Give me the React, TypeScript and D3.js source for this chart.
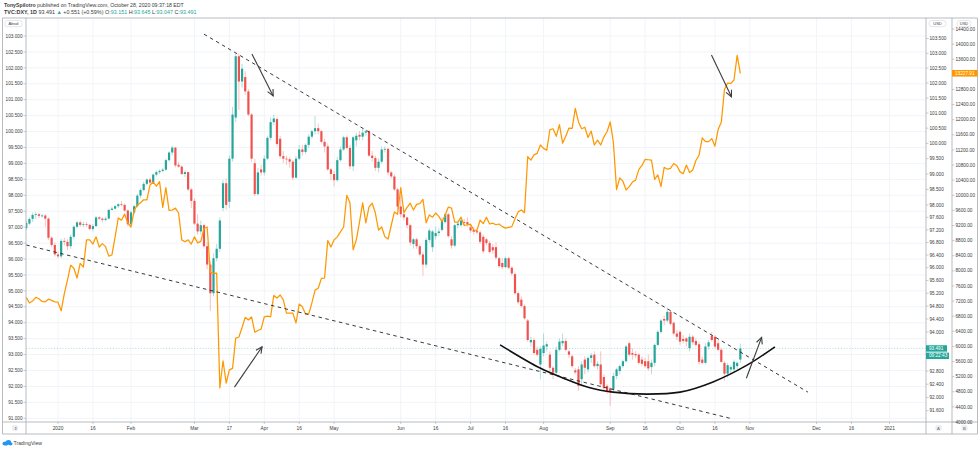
import React from "react";
import * as d3 from "d3";

const W = 980;
const H = 449;

// DXY daily candles [open, high, low, close], one per weekday from 2019-12-18 to 2020-10-28
const dxyOHLC: [number, number, number, number][] = [
  [97.25,97.50,97.20,97.42],[97.40,97.60,97.35,97.55],[97.55,97.75,97.45,97.68],[97.68,97.78,97.55,97.70],[97.70,97.74,97.58,97.65],
  [97.65,97.70,97.60,97.66],[97.66,97.70,97.30,97.56],[97.56,97.60,96.88,96.95],[96.95,97.00,96.65,96.72],[96.72,96.80,96.35,96.42],
  [96.42,96.50,96.30,96.36],[96.36,96.92,96.30,96.85],[96.85,96.95,96.70,96.82],[96.82,96.90,96.55,96.68],[96.68,97.05,96.60,96.98],
  [96.98,97.35,96.90,97.30],[97.30,97.48,97.25,97.44],[97.44,97.50,97.30,97.36],[97.36,97.46,97.30,97.38],[97.38,97.45,97.30,97.36],
  [97.36,97.40,97.18,97.23],[97.23,97.38,97.15,97.32],[97.32,97.65,97.30,97.60],[97.60,97.64,97.52,97.56],[97.56,97.60,97.45,97.52],
  [97.52,97.62,97.48,97.56],[97.56,97.88,97.54,97.84],[97.84,97.95,97.82,97.88],[97.88,98.00,97.85,97.96],[97.96,98.06,97.90,98.02],
  [98.02,98.12,97.96,98.00],[98.00,98.05,97.78,97.82],[97.82,97.86,97.32,97.38],[97.38,97.82,97.36,97.76],[97.76,98.00,97.70,97.96],
  [97.96,98.35,97.92,98.30],[98.30,98.54,98.22,98.48],[98.48,98.75,98.44,98.68],[98.68,98.85,98.62,98.82],[98.82,98.88,98.68,98.72],
  [98.72,99.02,98.70,98.98],[98.98,99.12,98.92,99.06],[99.06,99.15,99.00,99.10],[99.10,99.20,99.05,99.14],[99.14,99.50,99.10,99.45],
  [99.45,99.74,99.40,99.70],[99.70,99.92,99.60,99.86],[99.86,99.88,99.22,99.28],[99.30,99.40,99.20,99.24],[99.24,99.28,98.96,99.00],
  [99.00,99.12,98.90,99.06],[99.06,99.08,98.44,98.50],[98.50,98.55,97.90,98.13],[98.13,98.20,97.36,97.40],[97.40,97.70,97.05,97.15],
  [97.15,97.50,97.05,97.35],[97.35,97.40,96.60,96.68],[96.68,96.80,95.95,96.10],[96.10,96.20,94.65,95.20],[95.20,96.45,95.10,96.30],
  [96.30,96.75,96.20,96.60],[96.60,97.60,96.50,97.50],[97.90,98.80,97.80,98.70],[98.70,98.85,97.85,98.00],[98.10,99.60,97.90,99.50],
  [99.50,101.20,99.40,100.95],[100.85,102.99,100.70,102.90],[102.90,102.99,101.10,102.05],[102.05,102.65,101.85,102.48],[102.20,102.40,101.60,101.72],
  [101.72,101.80,100.90,100.95],[100.95,101.00,99.40,99.50],[99.35,99.50,98.28,98.35],[98.35,99.20,98.30,99.05],[99.15,99.30,98.95,99.05],
  [99.05,99.60,98.95,99.50],[99.50,100.25,99.45,100.18],[100.18,100.85,100.10,100.70],[100.70,100.95,100.60,100.82],[100.80,100.85,99.90,99.98],
  [100.15,100.25,99.50,99.58],[99.58,99.75,99.35,99.50],[99.50,99.60,99.30,99.48],[99.48,99.55,99.20,99.40],[99.40,99.45,98.80,98.88],
  [98.88,99.60,98.85,99.50],[99.50,99.95,99.45,99.80],[99.80,99.95,99.60,99.72],[99.72,100.00,99.65,99.95],[99.95,100.30,99.85,100.22],
  [100.22,100.45,100.15,100.40],[100.40,100.90,100.30,100.50],[100.50,100.65,100.30,100.40],[100.40,100.45,100.00,100.05],[100.05,100.15,99.70,99.90],
  [99.90,100.00,99.10,99.15],[99.15,99.20,98.80,99.00],[99.00,99.10,98.60,98.80],[98.80,99.55,98.75,99.45],[99.45,99.90,99.40,99.80],
  [99.80,100.25,99.75,100.20],[100.20,100.25,99.80,99.85],[99.85,99.95,99.15,99.25],[99.25,100.25,99.10,100.20],[100.10,100.35,99.90,100.25],
  [100.28,100.40,100.10,100.22],[100.22,100.50,100.10,100.35],[100.35,100.45,100.25,100.40],[100.40,100.45,99.55,99.60],[99.60,99.75,99.40,99.52],
  [99.52,99.60,99.10,99.20],[99.20,99.50,99.05,99.40],[99.40,99.90,99.35,99.80],[99.80,99.90,99.70,99.82],[99.82,99.85,98.95,99.05],
  [99.05,99.10,98.85,98.92],[98.92,99.00,98.45,98.50],[98.50,98.55,97.85,97.95],[97.95,98.30,97.60,97.70],[97.70,97.80,97.50,97.60],
  [97.60,97.62,97.25,97.35],[97.35,97.40,96.70,96.80],[96.75,96.95,96.60,96.90],[96.90,96.95,96.60,96.68],[96.68,96.75,96.35,96.42],
  [96.42,96.50,95.75,96.10],[96.10,96.95,96.00,96.88],[96.88,97.25,96.80,97.18],[96.65,97.20,96.50,97.15],[97.00,97.30,96.90,97.10],
  [97.10,97.25,97.00,97.15],[97.20,97.60,97.15,97.50],[97.45,97.75,97.40,97.70],[97.70,97.75,96.95,97.00],[96.90,97.00,96.60,96.70],
  [96.70,97.40,96.65,97.35],[97.35,97.50,97.25,97.40],[97.35,97.55,97.30,97.50],[97.45,97.55,97.35,97.42],[97.45,97.60,97.30,97.38],
  [97.28,97.40,97.10,97.18],[97.20,97.30,97.05,97.14],[97.16,97.22,97.05,97.12],[97.12,97.18,96.75,96.82],[96.98,97.05,96.45,96.52],
  [96.90,96.95,96.70,96.78],[96.78,96.85,96.45,96.50],[96.65,96.75,96.45,96.55],[96.65,96.80,96.25,96.32],[96.30,96.35,96.00,96.05],
  [96.15,96.30,95.95,96.02],[96.02,96.35,95.98,96.30],[96.30,96.35,95.95,96.00],[96.00,96.05,95.75,95.82],[95.80,95.85,95.15,95.20],
  [95.20,95.25,94.85,94.92],[95.00,95.10,94.75,94.80],[94.80,94.85,94.38,94.42],[94.35,94.40,93.70,93.75],[93.68,93.85,93.55,93.75],
  [93.75,93.80,93.30,93.35],[93.45,93.55,93.25,93.30],[93.00,93.55,92.55,93.48],[93.35,93.95,93.25,93.58],[93.55,93.70,93.40,93.62],
  [93.30,93.40,92.80,92.90],[92.90,92.95,92.55,92.75],[92.75,93.55,92.70,93.45],[93.45,93.80,93.40,93.70],[93.65,93.95,93.55,93.72],
  [93.72,93.80,93.40,93.45],[93.40,93.45,93.20,93.30],[93.25,93.30,92.90,92.95],[92.82,92.90,92.70,92.76],[92.85,92.95,92.20,92.35],
  [92.55,93.10,92.40,93.00],[93.15,93.25,92.70,92.90],[92.85,93.25,92.75,93.20],[93.20,93.35,93.05,93.28],[93.30,93.40,92.90,92.95],
  [92.95,93.10,92.85,93.02],[93.00,93.40,92.30,92.40],[92.62,92.70,92.20,92.28],[92.35,92.40,92.10,92.18],[92.28,92.30,91.75,92.15],
  [92.25,92.75,92.20,92.65],[92.65,92.90,92.55,92.85],[92.80,93.00,92.70,92.95],[92.95,93.15,92.90,93.10],[93.10,93.60,93.05,93.55],
  [93.65,93.70,93.25,93.30],[93.35,93.50,93.15,93.30],[93.32,93.40,93.20,93.28],[93.30,93.35,93.00,93.05],[93.15,93.25,92.95,93.02],
  [93.10,93.20,92.90,92.95],[93.10,93.30,92.80,92.88],[92.92,93.15,92.70,93.05],[93.05,93.65,92.95,93.60],[93.60,94.05,93.55,94.00],
  [94.00,94.40,93.95,94.35],[94.40,94.50,94.20,94.35],[94.35,94.75,94.30,94.62],[94.62,94.65,94.20,94.25],[94.28,94.32,93.90,93.95],
  [93.95,94.05,93.75,93.85],[94.00,94.05,93.60,93.70],[93.78,93.90,93.65,93.72],[93.80,93.85,93.55,93.70],[93.50,93.95,93.40,93.85],
  [93.85,93.90,93.60,93.68],[93.72,93.80,93.55,93.60],[93.62,93.70,93.00,93.08],[93.15,93.25,93.00,93.05],[93.05,93.65,93.00,93.55],
  [93.55,93.75,93.45,93.68],[93.88,94.00,93.70,93.75],[93.85,93.90,93.50,93.55],[93.65,93.75,93.40,93.45],[93.45,93.50,93.05,93.08],
  [93.05,93.10,92.50,92.72],[92.72,93.05,92.60,92.98],[92.85,92.98,92.70,92.92],[92.85,93.15,92.75,93.08],[92.95,93.10,92.85,93.05],
  [93.151,93.645,93.047,93.491],
];

// BTCUSD close on the same weekday bars
const btcClose: number[] = [
  7300, 7150, 7200, 7300, 7260, 7190, 7180, 7250, 7220, 7180,
  7170, 6940, 7400, 7760, 8150, 8070, 7810, 8200, 8100, 8820,
  8820, 8710, 8900, 8630, 8720, 8640, 8390, 8420, 8900, 9400,
  9340, 9500, 9270, 9160, 9600, 9740, 9800, 9880, 9880, 10270,
  10350, 10240, 10360, 9680, 10200, 9600, 9610, 9660, 9530, 8820,
  8770, 8820, 8710, 8900, 8740, 8780, 9120, 9160, 7960, 7930,
  7940, 4900, 5620, 5030, 5380, 5420, 6220, 6250, 6500, 6770,
  6700, 6780, 6380, 6420, 6460, 6780, 6800, 6780, 7350, 7280,
  7360, 7230, 6880, 6880, 6880, 6620, 7120, 7050, 6860, 6860,
  7150, 7490, 7540, 7800, 7810, 8800, 8630, 8820, 8900, 9030,
  9160, 10000, 9800, 8560, 8820, 9290, 9800, 9270, 9690, 9790,
  9530, 9080, 9160, 8900, 8840, 9200, 9560, 9500, 10200, 9540,
  9680, 9790, 9610, 9760, 9780, 9890, 9270, 9480, 9420, 9530,
  9440, 9300, 9470, 9690, 9660, 9290, 9290, 9420, 9200, 9220,
  9230, 9080, 9070, 9340, 9250, 9420, 9240, 9260, 9220, 9240,
  9170, 9130, 9150, 9170, 9380, 9560, 9610, 9540, 11020, 10930,
  11070, 11110, 11330, 11240, 11190, 11740, 11760, 11560, 11870, 11380,
  11560, 11780, 11770, 12300, 11940, 11760, 11800, 11530, 11700, 11330,
  11460, 11330, 11540, 11680, 11940, 11400, 10150, 10460, 10370, 10140,
  10230, 10350, 10400, 10680, 10790, 10950, 10940, 10930, 10420, 10540,
  10230, 10740, 10690, 10710, 10840, 10780, 10620, 10570, 10800, 10600,
  10670, 10920, 11060, 11520, 11420, 11420, 11500, 11300, 11740, 11930,
  12800, 12970, 12960, 13050, 13700, 13228,
];

const timeTickDates = ["2020-01-01","2020-01-16","2020-02-03","2020-03-02","2020-03-17","2020-04-01","2020-04-16","2020-05-01","2020-06-01","2020-06-16","2020-07-01","2020-07-16","2020-08-03","2020-09-01","2020-09-16","2020-10-01","2020-10-16","2020-11-02","2020-12-01","2020-12-16","2021-01-01"];
const timeTickLabels = ["2020","16","Feb","Mar","17","Apr","16","May","Jun","16","Jul","16","Aug","Sep","16","Oct","16","Nov","Dec","16","2021"];

const leftTicks = [91,91.5,92,92.5,93,93.5,94,94.5,95,95.5,96,96.5,97,97.5,98,98.5,99,99.5,100,100.5,101,101.5,102,102.5,103];
const dxyTicks = [103.5,103,102.5,102,101.5,101,100.5,100,99.5,99,98.5,98,97.6,97.2,96.8,96.4,96,95.6,95.2,94.8,94.4,94,93.6,93.2,92.8,92.4,92,91.6];
const btcTicks = [4000,4400,4800,5200,5600,6000,6400,6800,7200,7600,8000,8400,8800,9200,9600,10000,10400,10800,11200,11600,12000,12400,12800,13600,14000,14400];

// author's drawings, as [bar index, DXY price]
const upperTrend: [number, number][] = [[56.0, 103.65], [246.3, 92.16]];
const lowerTrend: [number, number][] = [[0, 96.72], [222.7, 91.35]];
const cupCurve: [number, number][] = [[149.3,93.60],[161.9,92.89],[169.1,92.59],[177.6,92.29],[184.9,92.16],[195.6,92.10],[206.0,92.16],[216.4,92.47],[227.1,92.98],[235.9,93.54]];
const arrows: [number, number, number, number][] = [
  [71.1, 102.98, 77.8, 101.57],
  [65.6, 92.31, 74.3, 93.54],
  [215.9, 102.94, 222.2, 101.54],
  [226.9, 92.58, 231.7, 93.83],
];

const lastPrice = 93.491;
const lastBtc = 13227.91;

const parse = d3.timeParse("%Y-%m-%d");
const fmt = d3.timeFormat("%Y-%m-%d");
const tradingDays = d3.timeDay
  .range(parse("2019-12-18") as Date, parse("2021-02-01") as Date)
  .filter((d) => d.getDay() !== 0 && d.getDay() !== 6)
  .map((d) => fmt(d));

const PL = 26, PR = 926, PT = 18, PB = 422;

const x = d3.scaleLinear().domain([0, 283.5]).range([26.25, 926]);
const yA = d3.scaleLog().domain([91.6, 103]).range([410.7, 53.3]);
const yL = d3.scaleLinear().domain([91, 103]).range([418.3, 36]);
const yB = d3.scaleLinear().domain([4000, 14400]).range([422, 29]);

const UP = "#26a69a";
const DOWN = "#ef5350";
const FONT = "'Liberation Sans', Arial, sans-serif";
const AX = "#a6a9b2";
const TXT = "#3b3b3b";

function arrowHead(x1: number, y1: number, x2: number, y2: number) {
  const a = Math.atan2(y2 - y1, x2 - x1);
  const L = 7, s = 0.45;
  const p1 = [x2 - L * Math.cos(a - s), y2 - L * Math.sin(a - s)];
  const p2 = [x2 - L * Math.cos(a + s), y2 - L * Math.sin(a + s)];
  return `M${p1[0]},${p1[1]}L${x2},${y2}L${p2[0]},${p2[1]}`;
}

export default function App() {
  const btcLine = d3
    .line<number>()
    .x((_, i) => x(i))
    .y((v) => yB(v))(btcClose) as string;
  const cupPath = d3
    .line<[number, number]>()
    .x((d) => x(d[0]))
    .y((d) => yA(d[1]))
    .curve(d3.curveCatmullRom)(cupCurve) as string;

  const priceY = yA(lastPrice);
  const btcY = yB(lastBtc);
  // tick labels hidden behind the last-price and countdown boxes
  const visibleDxyTicks = dxyTicks.filter((t) => {
    const ty = yA(t);
    return ty < priceY - 6.5 || ty > priceY + 14;
  });

  return (
    <svg width={W} height={H} style={{ position: "absolute", left: 0, top: 0, background: "#fff", fontFamily: FONT }}>
      <defs>
        <clipPath id="plot">
          <rect x={PL} y={PT} width={PR - PL} height={PB - PT} />
        </clipPath>
      </defs>
      <rect x={0} y={0} width={W} height={H} fill="#fff" />

      {/* header */}
      <text x={4} y={7} fontSize={5.2} fill={TXT}>
        <tspan fontWeight="bold">TonySpilotro</tspan>
        <tspan> published on TradingView.com, October 28, 2020 09:37:18 EDT</tspan>
      </text>
      <text x={4} y={14} fontSize={5.4} fill={TXT}>
        <tspan fontWeight="bold">TVC:DXY, 1D</tspan>
        <tspan> 93.491 </tspan>
        <tspan fill={UP}>▲</tspan>
        <tspan> +0.551 (+0.59%) O:</tspan>
        <tspan fill={UP}>93.151</tspan>
        <tspan> H:</tspan>
        <tspan fill={UP}>93.645</tspan>
        <tspan> L:</tspan>
        <tspan fill={UP}>93.047</tspan>
        <tspan> C:</tspan>
        <tspan fill={UP}>93.491</tspan>
      </text>

      {/* grid */}
      <g clipPath="url(#plot)">
        {leftTicks.map((t) => (
          <line key={"h" + t} x1={PL} x2={PR} y1={yL(t)} y2={yL(t)} stroke="#eef1f6" strokeWidth={0.8} />
        ))}
        {timeTickDates.map((d) => {
          const xi = x(tradingDays.indexOf(d));
          return <line key={"v" + d} x1={xi} x2={xi} y1={PT} y2={PB} stroke="#eef1f6" strokeWidth={0.8} />;
        })}
        <line x1={PL} x2={PR} y1={priceY} y2={priceY} stroke={UP} strokeOpacity={0.55} strokeWidth={0.6} strokeDasharray="1.2 1.6" />

        {/* candles */}
        {dxyOHLC.map(([o, h, l, c], i) => {
          const cx = x(i);
          const up = c >= o;
          const col = up ? UP : DOWN;
          const top = yA(Math.max(o, c));
          const bot = yA(Math.min(o, c));
          return (
            <g key={"c" + i}>
              <line x1={cx} x2={cx} y1={yA(h)} y2={yA(l)} stroke={col} strokeOpacity={0.4} strokeWidth={0.9} />
              <rect x={cx - 1.1} y={top} width={2.2} height={Math.max(0.8, bot - top)} fill={col} />
            </g>
          );
        })}

        {/* BTC overlay */}
        <path d={btcLine} fill="none" stroke="#ff9800" strokeWidth={1.25} strokeLinejoin="round" />

        {/* drawings */}
        <line x1={x(upperTrend[0][0])} y1={yA(upperTrend[0][1])} x2={x(upperTrend[1][0])} y2={yA(upperTrend[1][1])} stroke="#222" strokeWidth={0.9} strokeDasharray="3.5 3.5" />
        <line x1={x(lowerTrend[0][0])} y1={yA(lowerTrend[0][1])} x2={x(lowerTrend[1][0])} y2={yA(lowerTrend[1][1])} stroke="#222" strokeWidth={0.9} strokeDasharray="3.5 3.5" />
        <path d={cupPath} fill="none" stroke="#111" strokeWidth={1.6} />
        {arrows.map(([i1, p1, i2, p2], k) => {
          const x1 = x(i1), y1 = yA(p1), x2 = x(i2), y2 = yA(p2);
          return (
            <g key={"a" + k} stroke="#3c3c3c" strokeWidth={1.1} fill="none">
              <line x1={x1} y1={y1} x2={x2} y2={y2} />
              <path d={arrowHead(x1, y1, x2, y2)} />
            </g>
          );
        })}
      </g>

      {/* frame */}
      <g stroke={AX} strokeWidth={0.8}>
        <line x1={2.5} x2={977.5} y1={PT} y2={PT} />
        <line x1={2.5} x2={977.5} y1={PB} y2={PB} />
        <line x1={2.5} x2={977.5} y1={434} y2={434} />
        <line x1={2.5} x2={2.5} y1={PT} y2={434} />
        <line x1={PL} x2={PL} y1={PT} y2={434} />
        <line x1={PR} x2={PR} y1={PT} y2={434} />
        <line x1={952} x2={952} y1={PT} y2={434} />
        <line x1={977.5} x2={977.5} y1={PT} y2={434} />
      </g>

      {/* left axis */}
      <g fontSize={4.7} fill={TXT}>
        {leftTicks.map((t) => (
          <g key={"l" + t}>
            <line x1={23.5} x2={PL} y1={yL(t)} y2={yL(t)} stroke={AX} strokeWidth={0.6} />
            <text x={22.5} y={yL(t)} dy="0.35em" textAnchor="end">{t.toFixed(3)}</text>
          </g>
        ))}
      </g>
      <rect x={5} y={20.5} width={17} height={6.2} rx={2} fill="#fff" stroke="#c9ccd3" strokeWidth={0.5} />
      <text x={13.5} y={24.9} fontSize={4} textAnchor="middle" fill={TXT}>Absol</text>

      {/* DXY axis */}
      <g fontSize={4.7} fill={TXT}>
        {visibleDxyTicks.map((t) => (
          <g key={"a" + t}>
            <line x1={PR} x2={PR + 2.5} y1={yA(t)} y2={yA(t)} stroke={AX} strokeWidth={0.6} />
            <text x={PR + 3.5} y={yA(t)} dy="0.35em">{t.toFixed(3)}</text>
          </g>
        ))}
      </g>
      <rect x={929} y={20.5} width={17} height={6.2} rx={3} fill="#fff" stroke="#c9ccd3" strokeWidth={0.5} />
      <text x={937.5} y={24.9} fontSize={4} textAnchor="middle" fill={TXT}>USD</text>
      <rect x={PR} y={priceY - 3.2} width={21} height={6.4} fill={UP} />
      <text x={PR + 3} y={priceY} dy="0.35em" fontSize={4.7} fill="#fff">{lastPrice.toFixed(3)}</text>
      <rect x={PR} y={priceY + 4.2} width={23} height={6.4} fill={UP} />
      <text x={PR + 3} y={priceY + 7.4} dy="0.35em" fontSize={4.7} fill="#fff">09:22:43</text>

      {/* BTC axis */}
      <g fontSize={4.7} fill={TXT}>
        {btcTicks.map((t) => (
          <g key={"b" + t}>
            <line x1={952} x2={954.5} y1={yB(t)} y2={yB(t)} stroke={AX} strokeWidth={0.6} />
            <text x={955.5} y={yB(t)} dy="0.35em">{t.toFixed(2)}</text>
          </g>
        ))}
      </g>
      <rect x={957} y={20.5} width={14} height={6.2} rx={3} fill="#fff" stroke="#c9ccd3" strokeWidth={0.5} />
      <text x={964} y={24.9} fontSize={4} textAnchor="middle" fill={TXT}>USD</text>
      <rect x={952} y={btcY - 3.3} width={25.5} height={6.6} fill="#ff9800" />
      <text x={955} y={btcY} dy="0.35em" fontSize={4.7} fill="#fff">{lastBtc.toFixed(2)}</text>

      {/* time axis */}
      <g fontSize={4.8} fill={TXT}>
        {timeTickDates.map((d, k) => {
          const xi = x(tradingDays.indexOf(d));
          return (
            <g key={"t" + d}>
              <line x1={xi} x2={xi} y1={PB} y2={PB + 2} stroke={AX} strokeWidth={0.6} />
              <text x={xi} y={429.5} textAnchor="middle">{timeTickLabels[k]}</text>
            </g>
          );
        })}
      </g>
      <circle cx={15} cy={428} r={3.3} fill="#eceef2" />
      <text x={15} y={429.6} fontSize={4.2} textAnchor="middle" fill="#666">⇕</text>
      <circle cx={938.5} cy={428} r={3.3} fill="#eceef2" />
      <text x={938.5} y={429.6} fontSize={4.2} textAnchor="middle" fill="#666">A</text>
      <circle cx={964.5} cy={428} r={3.3} fill="#eceef2" />
      <text x={964.5} y={429.6} fontSize={4.2} textAnchor="middle" fill="#666">B</text>

      {/* TradingView logo */}
      <g fill="#2196f3">
        <ellipse cx={5.5} cy={443.5} rx={3} ry={2} />
        <ellipse cx={8.5} cy={442.3} rx={2.6} ry={2.4} />
        <ellipse cx={10.5} cy={443.8} rx={2} ry={1.6} />
      </g>
      <text x={13.5} y={445.2} fontSize={5.2} fill="#444">TradingView</text>
    </svg>
  );
}
